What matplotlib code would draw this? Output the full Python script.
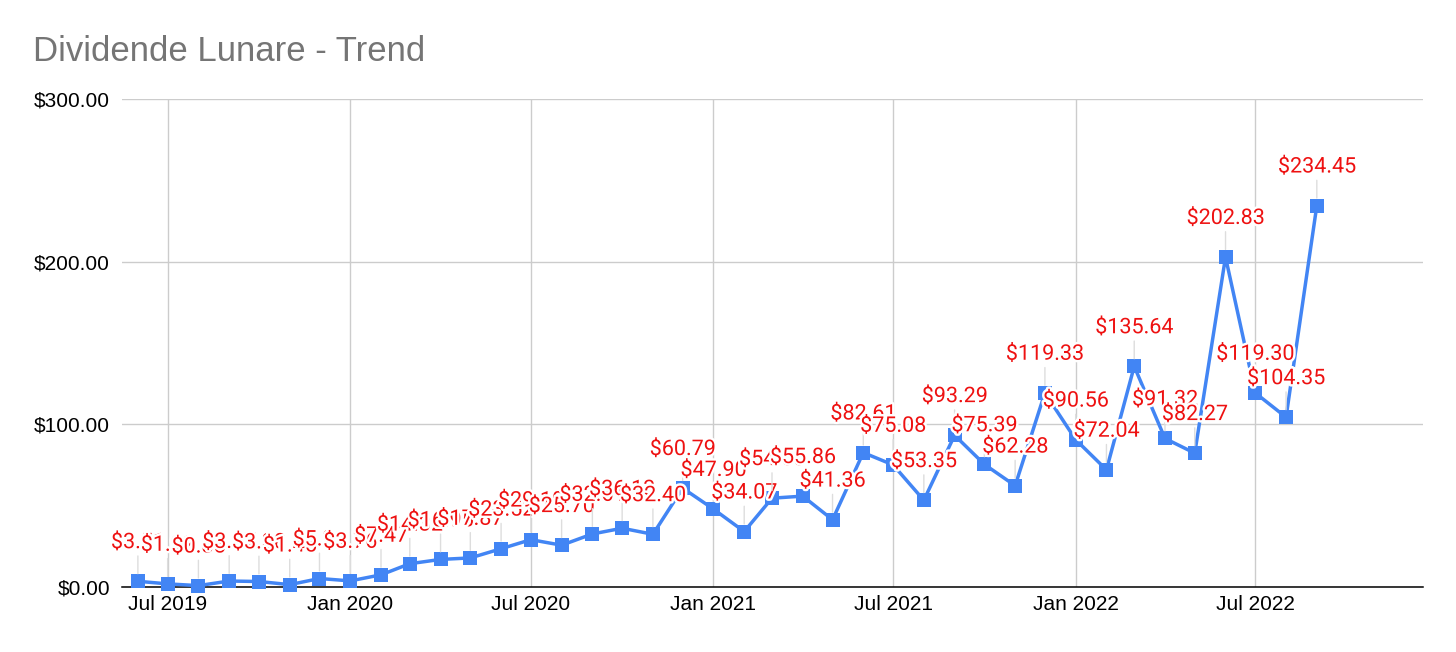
import matplotlib
matplotlib.use("Agg")
import matplotlib.pyplot as plt
import matplotlib.dates as mdates
import matplotlib.patheffects as pe
from matplotlib.ticker import FuncFormatter, FixedLocator
import datetime as dt

# ---- data ----
months = [
    "2019-06", "2019-07", "2019-08", "2019-09", "2019-10", "2019-11", "2019-12",
    "2020-01", "2020-02", "2020-03", "2020-04", "2020-05", "2020-06", "2020-07",
    "2020-08", "2020-09", "2020-10", "2020-11", "2020-12",
    "2021-01", "2021-02", "2021-03", "2021-04", "2021-05", "2021-06", "2021-07",
    "2021-08", "2021-09", "2021-10", "2021-11", "2021-12",
    "2022-01", "2022-02", "2022-03", "2022-04", "2022-05", "2022-06", "2022-07",
    "2022-08", "2022-09",
]
dividends = [
    3.51, 1.92, 0.85, 3.67, 3.38, 1.45, 5.21,
    3.76, 7.47, 14.32, 16.95, 17.87, 23.52, 29.10,
    25.70, 32.61, 36.13, 32.40, 60.79,
    47.90, 34.07, 54.60, 55.86, 41.36, 82.61, 75.08,
    53.35, 93.29, 75.39, 62.28, 119.33,
    90.56, 72.04, 135.64, 91.32, 82.27, 202.83, 119.30,
    104.35, 234.45,
]
y_ticks = [0, 100, 200, 300]
x_tick_dates = ["2019-07", "2020-01", "2020-07", "2021-01", "2021-07", "2022-01", "2022-07"]
title = "Dividende Lunare - Trend"

def to_date(s):
    y, m = s.split("-")
    return dt.datetime(int(y), int(m), 1)

dates = [to_date(m) for m in months]

W, H, DPI = 1456, 652, 100
fig = plt.figure(figsize=(W / DPI, H / DPI), dpi=DPI)
left, right, top, bottom = 122, 1423, 99, 587
ax = fig.add_axes([left / W, 1 - bottom / H, (right - left) / W, (bottom - top) / H])

blue = "#4285F4"
red = "#ee1111"
grid = "#cccccc"

ax.plot(dates, dividends, color=blue, lw=2.5, marker="s", markersize=10,
        markeredgewidth=0, zorder=3, clip_on=False)

for d, v in zip(dates, dividends):
    ax.annotate(f"${v:.2f}", xy=(d, v), xytext=(0, 27.8), textcoords="offset points",
                ha="center", va="center", color=red, fontsize=15.5, family="Roboto",
                zorder=5, annotation_clip=False,
                path_effects=[pe.withStroke(linewidth=3.5, foreground="white")],
                arrowprops=dict(arrowstyle="-", color="#dddddd", lw=1.0,
                                shrinkA=0, shrinkB=5.5))

ax.set_ylim(0, 300)
ax.set_xlim(dt.datetime(2019, 5, 16), dt.datetime(2022, 12, 17))
ax.yaxis.set_major_locator(FixedLocator(y_ticks))
ax.yaxis.set_major_formatter(FuncFormatter(lambda v, p: f"${v:,.2f}"))
ax.xaxis.set_major_locator(FixedLocator([mdates.date2num(to_date(s)) for s in x_tick_dates]))
ax.xaxis.set_major_formatter(mdates.DateFormatter("%b %Y"))

ax.grid(True, color=grid, lw=1.0)
ax.set_axisbelow(True)
for s in ["top", "right", "left"]:
    ax.spines[s].set_visible(False)
ax.spines["bottom"].set_color("black")
ax.spines["bottom"].set_linewidth(1.1)
ax.spines["bottom"].set_zorder(2.5)

ax.tick_params(axis="both", length=0, labelsize=15, labelcolor="#000000")
ax.tick_params(axis="y", pad=8.6)
ax.tick_params(axis="x", pad=6)
for lab in ax.get_xticklabels() + ax.get_yticklabels():
    lab.set_family("Liberation Sans")

fig.text(33 / W, 1 - 61 / H, title, fontsize=25, color="#757575",
         family="Liberation Sans", ha="left", va="baseline")

fig.savefig("out.png", dpi=DPI, facecolor="white")
